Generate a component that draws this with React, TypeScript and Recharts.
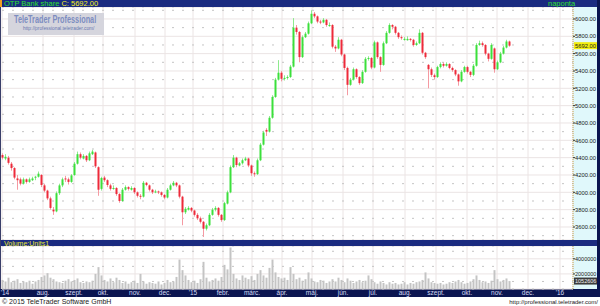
import { ComposedChart, Bar, XAxis, YAxis, CartesianGrid, ReferenceLine } from "recharts"

const font = "'Liberation Sans', Arial, sans-serif"

// OTP Bank share, one candle per 3 axis days (axis day 0 = left edge)
const opens = [
  4430, 4390, 4400, 4330, 4280, 4160, 4150, 4100, 4150, 4120,
  4140, 4170, 4180, 4200, 4080, 4020, 3930, 3800, 3780, 3990,
  4080, 4160, 4150, 4120, 4200, 4330, 4440, 4390, 4420, 4370,
  4440, 4460, 4290, 4040, 4170, 4140, 4080, 4040, 4050, 3980,
  3900, 4030, 4060, 4030, 4050, 4000, 3960, 3950, 4110, 4080,
  4030, 4000, 4010, 4000, 3970, 3940, 4030, 4080, 4110, 4080,
  3950, 3770, 3800, 3820, 3790, 3740, 3700, 3660, 3580, 3620,
  3740, 3800, 3820, 3740, 3680, 3870, 4000, 4290, 4400, 4310,
  4335, 4370, 4390, 4310, 4220, 4210, 4370, 4550, 4720, 4700,
  4860, 5100, 5300, 5380, 5310, 5320, 5330, 5450, 5900, 5850,
  5560, 5790, 5830, 5950, 6060, 6030, 5970, 5960, 5990, 5920,
  5930, 5680, 5660, 5760, 5590, 5435, 5240, 5300, 5420, 5330,
  5260, 5390, 5540, 5550, 5440, 5730, 5560, 5470, 5720, 5840,
  5930, 5910, 5840, 5790, 5760, 5755, 5770, 5760, 5700, 5720,
  5840, 5610, 5470, 5420, 5350, 5330, 5445, 5480, 5460, 5480,
  5435, 5410, 5360, 5280, 5390, 5445, 5390, 5355, 5460, 5700,
  5720, 5700, 5600, 5540, 5660, 5420, 5500, 5600, 5670, 5740,
]
const highs = [
  4450, 4440, 4420, 4350, 4290, 4200, 4170, 4170, 4160, 4170,
  4180, 4190, 4240, 4210, 4100, 4030, 3950, 3830, 4010, 4100,
  4170, 4190, 4170, 4210, 4350, 4470, 4460, 4440, 4430, 4470,
  4490, 4470, 4300, 4180, 4190, 4150, 4100, 4080, 4060, 3990,
  4050, 4080, 4070, 4070, 4060, 4010, 3980, 4130, 4120, 4090,
  4040, 4030, 4020, 4010, 3980, 4050, 4100, 4130, 4120, 4090,
  3960, 3830, 3840, 3830, 3800, 3760, 3720, 3670, 3640, 3760,
  3820, 3840, 3830, 3750, 3890, 4020, 4310, 4430, 4410, 4350,
  4390, 4410, 4400, 4320, 4240, 4390, 4570, 4710, 4740, 4880,
  5120, 5320, 5525, 5400, 5350, 5350, 5470, 6010, 5930, 5860,
  5810, 5850, 5970, 6100, 6080, 6040, 5990, 6010, 6000, 5960,
  5940, 5700, 5790, 5770, 5600, 5450, 5320, 5440, 5430, 5340,
  5410, 5560, 5570, 5560, 5750, 5740, 5570, 5740, 5860, 5950,
  5940, 5920, 5850, 5810, 5790, 5800, 5780, 5770, 5740, 5880,
  5850, 5620, 5480, 5440, 5370, 5460, 5500, 5500, 5500, 5490,
  5450, 5420, 5370, 5410, 5460, 5460, 5400, 5480, 5720, 5750,
  5740, 5710, 5610, 5720, 5670, 5520, 5620, 5690, 5760, 5750,
]
const lows = [
  4380, 4370, 4320, 4250, 4150, 4030, 4080, 4090, 4100, 4110,
  4130, 4140, 4170, 4060, 4000, 3910, 3800, 3740, 3770, 3970,
  4060, 4120, 4090, 4110, 4190, 4320, 4380, 4380, 4350, 4360,
  4430, 4280, 3960, 4020, 4120, 4060, 4020, 4030, 3960, 3880,
  3890, 4020, 4020, 4020, 3980, 3940, 3920, 3940, 4070, 4010,
  3980, 3990, 3980, 3950, 3920, 3930, 4020, 4070, 4060, 3930,
  3620, 3750, 3790, 3770, 3720, 3680, 3640, 3485, 3560, 3610,
  3730, 3780, 3720, 3660, 3670, 3860, 3990, 4280, 4290, 4300,
  4320, 4360, 4290, 4190, 4180, 4200, 4360, 4540, 4650, 4690,
  4850, 5090, 5290, 5280, 5290, 5300, 5320, 5440, 5820, 5500,
  5550, 5780, 5820, 5940, 6010, 5950, 5940, 5950, 5910, 5910,
  5660, 5620, 5650, 5570, 5410, 5120, 5230, 5290, 5310, 5240,
  5250, 5380, 5520, 5420, 5430, 5540, 5390, 5460, 5710, 5830,
  5880, 5820, 5770, 5760, 5750, 5750, 5740, 5680, 5690, 5710,
  5590, 5540, 5200, 5330, 5300, 5320, 5430, 5440, 5450, 5420,
  5390, 5340, 5230, 5270, 5380, 5370, 5330, 5340, 5450, 5690,
  5680, 5580, 5510, 5530, 5380, 5410, 5490, 5590, 5660, 5680,
]
const closes = [
  4400, 4410, 4340, 4280, 4170, 4140, 4100, 4150, 4120, 4150,
  4160, 4180, 4215, 4085, 4020, 3930, 3820, 3780, 3990, 4080,
  4150, 4150, 4120, 4195, 4330, 4440, 4400, 4420, 4370, 4450,
  4470, 4300, 4030, 4165, 4140, 4085, 4040, 4050, 3980, 3900,
  4030, 4060, 4040, 4050, 4000, 3960, 3950, 4110, 4085, 4030,
  4000, 4010, 4000, 3970, 3940, 4030, 4080, 4110, 4080, 3950,
  3770, 3810, 3820, 3790, 3740, 3700, 3660, 3580, 3620, 3740,
  3800, 3820, 3740, 3680, 3875, 4000, 4290, 4400, 4315, 4335,
  4370, 4390, 4310, 4220, 4210, 4370, 4550, 4690, 4700, 4860,
  5100, 5300, 5380, 5310, 5320, 5330, 5450, 5900, 5850, 5560,
  5790, 5830, 5950, 6060, 6030, 5970, 5960, 5990, 5930, 5930,
  5680, 5660, 5760, 5590, 5435, 5240, 5300, 5420, 5330, 5260,
  5390, 5540, 5550, 5440, 5730, 5560, 5470, 5720, 5840, 5930,
  5910, 5840, 5790, 5780, 5770, 5770, 5760, 5700, 5720, 5840,
  5610, 5560, 5420, 5355, 5330, 5445, 5480, 5460, 5480, 5435,
  5410, 5360, 5280, 5390, 5445, 5390, 5355, 5460, 5700, 5720,
  5700, 5600, 5540, 5700, 5420, 5500, 5600, 5670, 5740, 5692,
]
// volume in millions of units
const volumes = [
  1.2, 1.0, 1.5, 0.9, 1.1, 1.3, 0.8, 1.0, 0.9, 1.1,
  0.7, 1.0, 1.2, 1.6, 1.8, 2.1, 1.5, 1.3, 1.0, 0.9,
  0.8, 1.1, 1.3, 1.0, 1.2, 1.4, 0.9, 0.8, 1.0, 0.9,
  1.1, 2.0, 2.9, 1.8, 1.2, 1.0, 1.4, 0.9, 1.5, 1.2,
  0.8, 1.0, 0.7, 0.9, 1.1, 0.8, 2.0, 1.0, 0.7, 0.9,
  0.8, 0.7, 1.0, 0.6, 0.8, 1.2, 0.9, 1.0, 1.6, 3.9,
  2.5, 1.8, 1.2, 0.9, 1.1, 0.8, 1.3, 3.6, 1.5, 1.0,
  1.2, 1.4, 1.1, 1.6, 3.2, 2.6, 5.5, 2.0, 1.4, 1.2,
  1.8, 1.5, 1.3, 1.7, 1.2, 2.0, 2.5, 1.8, 1.5, 2.8,
  3.9, 2.2, 1.6, 1.4, 1.5, 1.2, 2.9, 2.0, 1.3, 1.5,
  1.1, 1.3, 2.2, 1.4, 1.0, 0.9, 1.2, 1.1, 0.8, 1.0,
  1.3, 1.0, 1.5, 1.2, 0.9, 1.4, 1.1, 0.8, 1.0, 1.2,
  0.9, 1.1, 1.8, 1.3, 0.9, 0.7, 1.0, 0.8, 0.6, 0.9,
  0.7, 0.8, 0.6, 0.7, 0.9, 0.6, 0.8, 0.7, 0.9, 1.0,
  1.2, 2.2, 1.4, 0.9, 0.8, 0.7, 0.8, 0.6, 0.7, 0.9,
  0.8, 1.0, 1.2, 0.9, 0.7, 0.8, 1.0, 1.3, 1.8, 1.2,
  0.9, 1.0, 0.8, 1.1, 2.5, 1.3, 1.0, 1.2, 1.4, 1.05,
]

const monthTicks = [41, 72, 101, 133, 163, 191, 221, 250, 280, 310, 341, 371, 403, 434, 465, 495, 526, 558]
const axisTicks = [3, ...monthTicks]
const axisLabels = ["'14", "aug.", "szept.", "okt.", "nov.", "dec.", "'15", "febr.", "márc.", "ápr.", "máj.", "jún.", "júl.", "aug.", "szept.", "okt.", "nov.", "dec.", "'16"]
const priceTicks = [3600, 3800, 4000, 4200, 4400, 4600, 4800, 5000, 5200, 5400, 5600, 5800, 6000]
const priceMinor = [3500, 3700, 3900, 4100, 4300, 4500, 4700, 4900, 5100, 5300, 5500, 5700, 5900, 6100]
const volumeTicks = [2, 4]
const volumeMinor = [1, 3, 5]
const lastPrice = 5692
const lastVolume = 1.052606

const rows = closes.map((close, i) => ({
  day: 1 + 3 * i,
  open: opens[i],
  high: highs[i],
  low: lows[i],
  close,
  vol: volumes[i],
}))

const navy = "#1b2b80"
const darkNavy = "#0b1550"
const axisBg = "#e0f8fb"

function Candle(props: any) {
  const { x, y, width, height, payload } = props
  if (x == null || !payload) return null
  const top = Math.min(y, y + height)
  const span = Math.abs(height)
  const { open, close, high, low } = payload
  const py = (p: number) => (high === low ? top : top + ((high - p) / (high - low)) * span)
  const up = close >= open
  const bTop = py(Math.max(open, close))
  const bBot = py(Math.min(open, close))
  return (
    <g>
      <line x1={x + width / 2} x2={x + width / 2} y1={top} y2={top + span} stroke={up ? "#8eea8e" : "#f59aa2"} />
      <rect x={x} y={bTop} width={width} height={Math.max(1, bBot - bTop)} fill={up ? "#3be03b" : "#ee2a3a"} />
    </g>
  )
}

function PriceTick({ x, y, payload }: any) {
  return (
    <text x={x} y={y + 2.2} fontSize={5.8} fill="#1a1a1a" fontFamily={font}>
      {payload.value.toFixed(2)}
    </text>
  )
}

function VolumeTick({ x, y, payload }: any) {
  return (
    <text x={x} y={y + 2.2} fontSize={5.5} fill="#1a1a1a" fontFamily={font}>
      {Math.round(payload.value * 1000000)}
    </text>
  )
}

function MonthTick({ x, y, payload }: any) {
  const i = axisTicks.indexOf(payload.value)
  return (
    <text x={x} y={y + 6.3} textAnchor="middle" fontSize={6.5} fill="#d6dbf5" fontFamily={font}>
      {axisLabels[i]}
    </text>
  )
}

function Tag({ viewBox, text, bg, fg, size }: any) {
  if (!viewBox) return null
  const x = viewBox.x + viewBox.width
  const y = viewBox.y
  return (
    <g>
      <rect x={x + 1} y={y - 3.5} width={23} height={7} fill={bg} />
      <text x={x + 2} y={y + 2.2} fontSize={size} fill={fg} fontFamily={font}>
        {text}
      </text>
    </g>
  )
}

export default function App() {
  return (
    <div style={{ position: "absolute", left: 0, top: 0, width: 600, height: 306, background: "#fff", fontFamily: font, overflow: "hidden" }}>
      {/* title bar */}
      <div style={{ position: "absolute", left: 0, top: 0, width: 600, height: 7, background: navy }} />
      <div style={{ position: "absolute", left: 0, top: 0, width: 2, height: 7, background: "#f0a020" }} />
      <div style={{ position: "absolute", left: 4, top: -1, fontSize: 7.5, lineHeight: "9px", whiteSpace: "nowrap" }}>
        <span style={{ color: "#2ee02e" }}>OTP Bank share </span>
        <span style={{ color: "#f2f020" }}>C: 5692.00</span>
      </div>
      <div style={{ position: "absolute", left: 548, top: -1, fontSize: 7.5, lineHeight: "9px", color: "#2ee02e" }}>naponta</div>

      {/* axis backgrounds */}
      <div style={{ position: "absolute", left: 573, top: 7, width: 24, height: 233, background: axisBg }} />
      <div style={{ position: "absolute", left: 573, top: 246, width: 24, height: 43, background: axisBg }} />
      <div style={{ position: "absolute", left: 0, top: 240, width: 600, height: 6, background: navy }} />
      <div style={{ position: "absolute", left: 4, top: 238.5, fontSize: 7, lineHeight: "9px", color: "#e8e830", whiteSpace: "nowrap" }}>Volume:Units1</div>
      <div style={{ position: "absolute", left: 0, top: 289, width: 600, height: 8, background: darkNavy }} />
      <div style={{ position: "absolute", left: 597, top: 0, width: 3, height: 297, background: darkNavy }} />
      <div style={{ position: "absolute", left: 0, top: 7, width: 1, height: 282, background: "#3a3f6a" }} />

      {/* price chart */}
      <div style={{ position: "absolute", left: 0, top: 7 }}>
        <ComposedChart width={597} height={233} data={rows} margin={{ top: 0, right: 0, bottom: 0, left: 2 }}>
          <XAxis type="number" dataKey="day" domain={[0, 571]} ticks={monthTicks} interval={0} hide />
          <YAxis
            orientation="right"
            width={24}
            domain={[3450, 6138]}
            ticks={priceTicks}
            interval={0}
            tickSize={2}
            tickMargin={0}
            tickLine={{ stroke: "#333" }}
            axisLine={{ stroke: "#c0a850", strokeDasharray: "1 1" }}
            tick={<PriceTick />}
            allowDataOverflow
          />
          <YAxis yAxisId="minor" hide domain={[3450, 6138]} ticks={priceMinor} interval={0} allowDataOverflow />
          <CartesianGrid stroke="#ebe4e4" />
          <CartesianGrid yAxisId="minor" stroke="#c4c4c4" strokeDasharray="2 8" vertical={false} />
          <Bar dataKey={(d: any) => [d.low, d.high]} barSize={2} shape={<Candle />} isAnimationActive={false} />
          <ReferenceLine y={lastPrice} stroke="none" label={<Tag text="5692.00" bg="#f2ee10" fg="#222" size={5.8} />} />
        </ComposedChart>
      </div>

      {/* volume chart */}
      <div style={{ position: "absolute", left: 0, top: 246 }}>
        <ComposedChart width={597} height={51} data={rows} margin={{ top: 0, right: 0, bottom: 0, left: 2 }}>
          <XAxis
            type="number"
            dataKey="day"
            domain={[0, 571]}
            ticks={axisTicks}
            interval={0}
            height={8}
            tickSize={0}
            tickMargin={0}
            tickLine={false}
            axisLine={false}
            tick={<MonthTick />}
          />
          <XAxis xAxisId="grid" type="number" dataKey="day" domain={[0, 571]} ticks={monthTicks} interval={0} hide />
          <YAxis
            orientation="right"
            width={24}
            domain={[0, 5.7]}
            ticks={volumeTicks}
            interval={0}
            tickSize={2}
            tickMargin={0}
            tickLine={{ stroke: "#333" }}
            axisLine={{ stroke: "#c0a850", strokeDasharray: "1 1" }}
            tick={<VolumeTick />}
            allowDataOverflow
          />
          <YAxis yAxisId="minor" hide domain={[0, 5.7]} ticks={volumeMinor} interval={0} allowDataOverflow />
          <CartesianGrid xAxisId="grid" stroke="#ebe4e4" />
          <CartesianGrid xAxisId="grid" yAxisId="minor" stroke="#c4c4c4" strokeDasharray="2 8" vertical={false} />
          <Bar dataKey="vol" barSize={2} fill="#c4c4c4" isAnimationActive={false} />
          <ReferenceLine y={lastVolume} stroke="none" label={<Tag text="1052606" bg="#3c3c3c" fg="#f4f4f4" size={5.5} />} />
        </ComposedChart>
      </div>

      {/* watermark */}
      <svg style={{ position: "absolute", left: 8, top: 13 }} width={96} height={22}>
        <rect width={96} height={22} fill="#d5d5dd" />
        <g transform="translate(6 9.5) scale(0.73 1)">
          <text x={0} y={0} fontSize={10} fontWeight="bold" fill="#7c8cc0" fontFamily={font}>
            TeleTrader Professional
          </text>
        </g>
        <g transform="translate(15 17) scale(0.88 1)">
          <text x={0} y={0} fontSize={5.5} fill="#6878b0" fontFamily={font}>
            http://professional.teletrader.com/
          </text>
        </g>
      </svg>

      {/* footer */}
      <div style={{ position: "absolute", left: 2, top: 297, fontSize: 7, lineHeight: "9px", color: "#222", whiteSpace: "nowrap" }}>© 2015 TeleTrader Software GmbH</div>
      <div style={{ position: "absolute", right: 2, top: 298, fontSize: 6, lineHeight: "8px", color: "#222", whiteSpace: "nowrap" }}>http://professional.teletrader.com/</div>
    </div>
  )
}
